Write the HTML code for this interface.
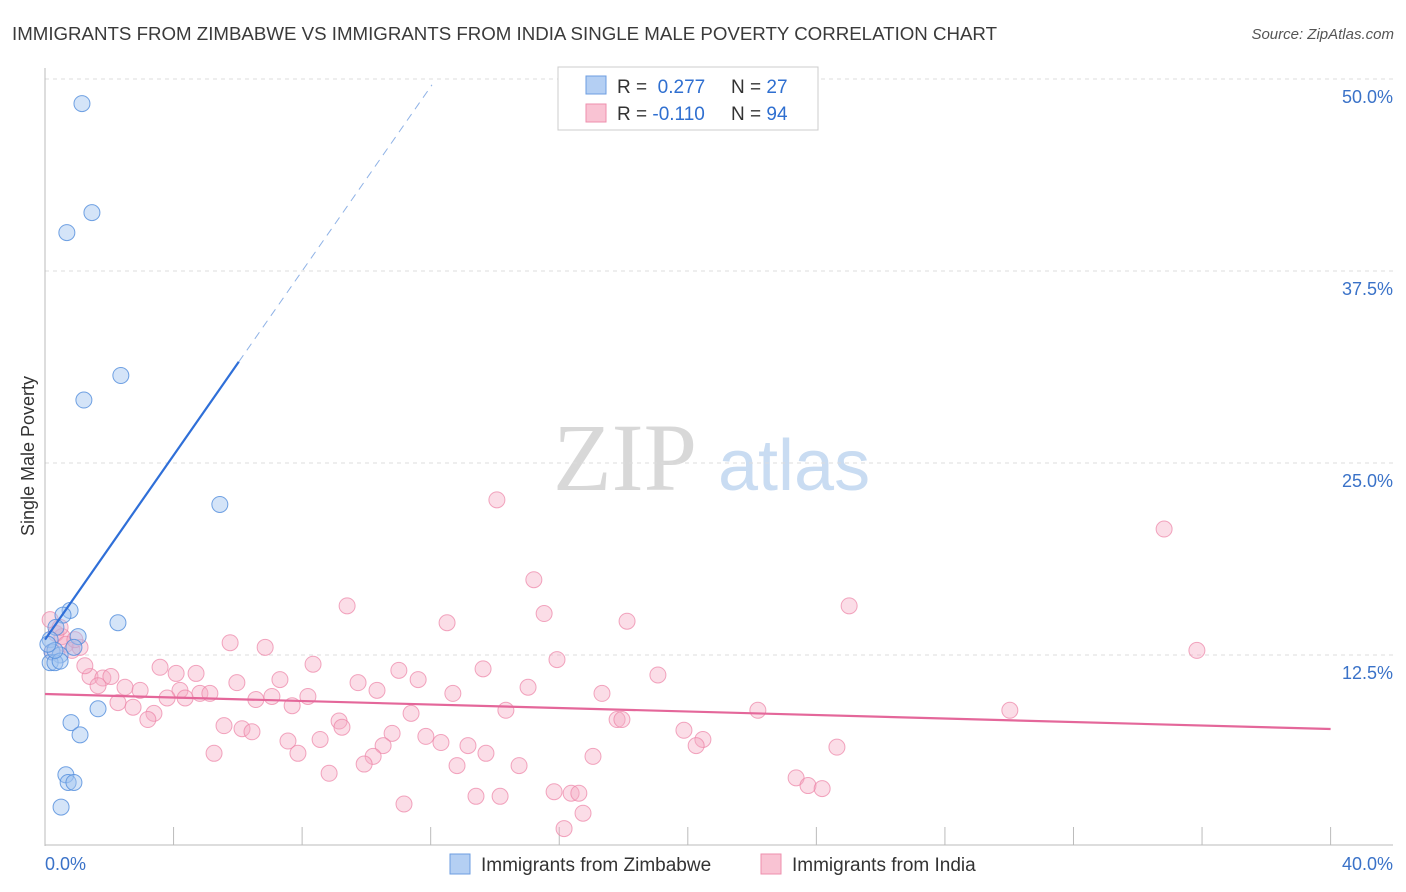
<!DOCTYPE html>
<html><head><meta charset="utf-8"><style>
body{margin:0;background:#fff;font-family:"Liberation Sans",sans-serif}
svg{display:block}
</style></head><body>
<svg id="c" width="1406" height="892">
<text x="12" y="40" font-size="18.7" fill="#3a3a3a">IMMIGRANTS FROM ZIMBABWE VS IMMIGRANTS FROM INDIA SINGLE MALE POVERTY CORRELATION CHART</text>
<text x="1394" y="39" font-size="15" fill="#555" font-style="italic" text-anchor="end">Source: ZipAtlas.com</text>
<g><text x="553" y="490" font-size="96" fill="#d8d8d8" font-family="Liberation Serif,serif">ZIP</text><text x="718" y="490" font-size="72" fill="#c9dcf2">atlas</text></g>
<text transform="translate(34,456) rotate(-90)" font-size="18" fill="#333" text-anchor="middle">Single Male Poverty</text>
<g id="grid"></g><g id="pts"></g><g id="trend"></g>
<g>
<rect x="558" y="67" width="260" height="63" fill="#fff" stroke="#ccc"/>
<rect x="586" y="76" width="20" height="18" fill="#b4cff3" stroke="#6d9ee0"/>
<rect x="586" y="104" width="20" height="18" fill="#f9c3d3" stroke="#ee8fae"/>
<text x="617" y="93" font-size="19" fill="#333">R = <tspan fill="#2f6fd0">&#160;0.277</tspan><tspan x="731">N = </tspan><tspan fill="#2f6fd0">27</tspan></text>
<text x="617" y="120" font-size="19" fill="#333">R = <tspan fill="#2f6fd0">-0.110</tspan><tspan x="731">N = </tspan><tspan fill="#2f6fd0">94</tspan></text>
</g>
<g>
<rect x="450" y="854" width="20" height="20" fill="#b4cff3" stroke="#6d9ee0"/>
<text x="481" y="871" font-size="19" fill="#333">Immigrants from Zimbabwe</text>
<rect x="761" y="854" width="20" height="20" fill="#f9c3d3" stroke="#ee8fae"/>
<text x="792" y="871" font-size="19" fill="#333">Immigrants from India</text>
</g>
</svg>
<script>
const xTicks=[0,4,8,12,16,20,24,28,32,36,40];
const yTicks=[12.5,25,37.5,50];
const yTickLabels=["12.5%","25.0%","37.5%","50.0%"];
const zimX=[1.15,1.46,0.68,2.36,1.21,5.44,0.78,0.56,2.27,0.34,1.03,0.16,0.90,0.22,0.47,0.16,0.31,0.47,1.65,0.81,1.09,0.65,0.72,0.90,0.50,0.31,0.09];
const zimY=[48.4,41.3,40.0,30.7,29.1,22.3,15.4,15.1,14.6,14.3,13.7,13.5,13.0,12.7,12.5,12.0,12.0,12.1,9.0,8.1,7.3,4.7,4.2,4.2,2.6,12.8,13.2];
const indX=[14.06,34.82,15.21,9.40,25.02,15.53,12.51,18.11,5.76,6.85,35.84,15.93,8.34,13.63,11.01,3.58,4.08,4.70,19.07,7.31,1.40,1.80,2.05,5.97,9.74,11.61,15.03,1.65,2.49,2.96,4.20,4.82,5.13,4.36,3.80,7.06,8.18,10.33,12.69,17.33,6.56,7.69,2.27,2.74,3.39,3.20,14.34,11.39,22.18,30.02,17.80,17.95,9.15,9.24,5.57,6.13,6.44,10.80,11.85,19.88,20.47,20.26,24.64,7.56,8.56,10.52,12.32,13.16,13.72,5.26,7.87,10.21,9.93,12.82,14.75,17.05,8.84,23.37,23.74,24.18,15.84,16.37,16.61,11.17,13.41,14.16,16.74,16.15,0.16,0.34,0.53,0.65,0.84,1.09,0.93,0.47,1.24,0.22];
const indY=[22.6,20.7,17.4,15.7,15.7,15.2,14.6,14.7,13.3,13.0,12.8,12.2,11.9,11.6,11.5,11.7,11.3,11.3,11.2,10.9,11.1,11.0,11.1,10.7,10.7,10.9,10.4,10.5,10.4,10.2,10.2,10.0,10.0,9.7,9.7,9.8,9.8,10.2,10.0,10.0,9.6,9.2,9.4,9.1,8.7,8.3,8.9,8.7,8.9,8.9,8.3,8.3,8.2,7.8,7.9,7.7,7.5,7.4,7.2,7.6,7.0,6.6,6.5,6.9,7.0,6.6,6.8,6.6,6.1,6.1,6.1,5.9,5.4,5.3,5.3,5.9,4.8,4.5,4.0,3.8,3.6,3.5,3.5,2.8,3.3,3.3,2.2,1.2,14.8,13.9,13.7,13.2,12.8,13.0,13.5,14.3,11.8,12.7];
const zimTrend=[13.5,3.0];   // intercept, slope
const indTrend=[9.96,-0.057];
const X=v=>45+v*32.14, Y=v=>847-v*15.36;
const NS="http://www.w3.org/2000/svg";
function mk(p,t,a){const e=document.createElementNS(NS,t);for(const k in a)e.setAttribute(k,a[k]);p.appendChild(e);return e;}
const grid=document.getElementById('grid');
yTicks.forEach((t,i)=>{
 const l=mk(grid,'line',{x1:45,x2:1393,y1:Y(t),y2:Y(t),stroke:'#ddd','stroke-dasharray':'4,4'});
 
 
 const tx=mk(grid,'text',{x:1393,y:Y(t)+24,'font-size':18,fill:'#3a72c8','text-anchor':'end'});tx.textContent=yTickLabels[i];
 
 
});
const ax=mk(grid,'line',{x1:45,x2:45,y1:68,y2:846,stroke:'#bbb'});


const bx=mk(grid,'line',{x1:45,x2:1393,y1:845,y2:845,stroke:'#bbb'});


xTicks.forEach(t=>{const l=mk(grid,'line',{x1:X(t),x2:X(t),y1:827,y2:845,stroke:'#bbb'});
 
 });
const x0=mk(grid,'text',{x:45,y:870,'font-size':18,fill:'#3a72c8'});x0.textContent=xTicks[0].toFixed(1)+'%';


const x1=mk(grid,'text',{x:1393,y:870,'font-size':18,fill:'#3a72c8','text-anchor':'end'});x1.textContent=xTicks[xTicks.length-1].toFixed(1)+'%';


const pts=document.getElementById('pts');
indX.forEach((v,i)=>{const c=mk(pts,'circle',{cx:X(v),cy:Y(indY[i]),r:8,fill:'rgba(246,170,196,0.4)',stroke:'rgba(236,130,165,0.7)','stroke-width':1});
 
 });
zimX.forEach((v,i)=>{const c=mk(pts,'circle',{cx:X(v),cy:Y(zimY[i]),r:8,fill:'rgba(160,195,240,0.45)',stroke:'rgba(80,140,220,0.8)','stroke-width':1});
 
 });
const tr=document.getElementById('trend');
const zx1=6.03, zx2=12.04;
const z1=mk(tr,'line',{x1:X(0),y1:Y(zimTrend[0]),x2:X(zx1),y2:Y(zimTrend[0]+zimTrend[1]*zx1),stroke:'#2f6fd8','stroke-width':2.2});


const z2=mk(tr,'line',{x1:X(zx1),y1:Y(zimTrend[0]+zimTrend[1]*zx1),x2:X(zx2),y2:Y(zimTrend[0]+zimTrend[1]*zx2),stroke:'#8fb2e6','stroke-width':1,'stroke-dasharray':'8,6'});


const p1=mk(tr,'line',{x1:X(0),y1:Y(indTrend[0]),x2:X(40),y2:Y(indTrend[0]+indTrend[1]*40),stroke:'#e4679a','stroke-width':2.2});


</script>
</body></html>
